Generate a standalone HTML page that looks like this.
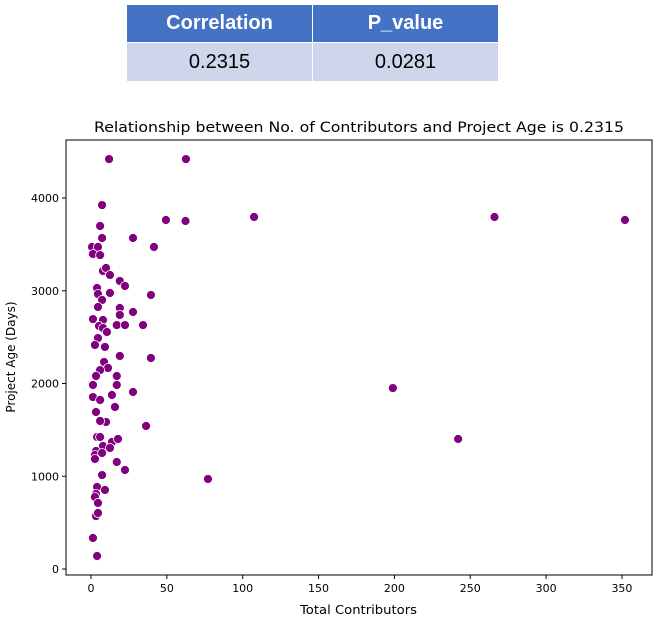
<!DOCTYPE html>
<html><head><meta charset="utf-8"><style>
body{margin:0;background:#fff;width:658px;height:619px;overflow:hidden;font-family:"Liberation Sans",sans-serif}
table{position:absolute;left:126px;top:4px;border-collapse:collapse}
td{width:185px;text-align:center;font-size:20px;border:1px solid #fff;padding:0}
.h td{background:#4472C4;color:#fff;font-weight:bold;height:37px}
.r td{background:#CFD5EA;color:#000;height:38px}
</style></head><body>
<table>
<tr class="h"><td>Correlation</td><td>P_value</td></tr>
<tr class="r"><td>0.2315</td><td>0.0281</td></tr>
</table>
<svg id="c" width="658" height="619" style="position:absolute;left:0;top:0;font-family:'DejaVu Sans',sans-serif"></svg>
<script>
const xs=[11.9,62.6,49.4,62.3,107.5,266,352,7.3,6,27.7,7.3,41.5,0.7,4.6,1.3,6,7.9,9.9,12.5,19,22.4,4,4.6,12.5,39.5,7.3,4.6,19,27.7,19,1.3,7.9,5.3,17,22.4,34.3,7.9,10.5,4.6,2.6,9.2,19,39.5,8.6,11.2,6,3.3,17,1.3,17,27.7,13.8,1.3,6,15.8,3.3,9.9,6,36.3,4,6,13.8,17.8,7.9,3.3,12.5,2.6,7.3,2.6,17,22.4,7.3,77.1,4,3.3,2.6,9.2,4.6,3.3,4.6,1.3,4,199,242];
const ys=[4420,4420,3763,3752,3795,3795,3763,3924,3698,3569,3569,3472,3472,3472,3396,3385,3213,3245,3170,3105,3051,3030,2965,2976,2954,2900,2825,2814,2771,2739,2695,2685,2620,2630,2630,2630,2598,2555,2490,2415,2394,2297,2275,2232,2167,2145,2081,2081,1984,1984,1908,1876,1854,1822,1747,1693,1585,1596,1542,1423,1423,1369,1402,1326,1272,1305,1229,1251,1186,1154,1067,1013,970,884,809,776,852,712,571,604,334,140,1951,1402];
const xticks=[0,50,100,150,200,250,300,350];
const yticks=[0,1000,2000,3000,4000];
const L=66,R=652,T=140,B=575;
const X=v=>91+v*1.517, Y=v=>569-v*0.09275;
const s=document.getElementById('c');const ns='http://www.w3.org/2000/svg';
function mk(t,a,txt){const e=document.createElementNS(ns,t);for(const k in a)e.setAttribute(k,a[k]);if(txt!=null)e.textContent=txt;s.appendChild(e);return e;}
let fr=mk('rect',{x:L,y:T,width:R-L,height:B-T,fill:'none',stroke:'#000','stroke-width':1});


xticks.forEach(v=>{mk('line',{x1:X(v),x2:X(v),y1:B,y2:B+4,stroke:'#000'});
 let t=mk('text',{x:X(v),y:B+17,'text-anchor':'middle','font-size':11},v);
 
 });
yticks.forEach(v=>{mk('line',{x1:L-4,x2:L,y1:Y(v),y2:Y(v),stroke:'#000'});
 let t=mk('text',{x:L-7,y:Y(v)+4,'text-anchor':'end','font-size':11},v);
 
 });
xs.forEach((x,i)=>{let c=mk('circle',{cx:X(x),cy:Y(ys[i]),r:4.5,fill:'#800080',stroke:'#fff','stroke-width':0.8});
 
 });
let ti=mk('text',{x:94,y:132,'font-size':14,textLength:530,lengthAdjust:'spacingAndGlyphs'},'Relationship between No. of Contributors and Project Age is 0.2315');


let xl=mk('text',{x:300,y:614,'font-size':12,textLength:117,lengthAdjust:'spacingAndGlyphs'},'Total Contributors');


let yl=mk('text',{x:15,y:357,'text-anchor':'middle','font-size':12,transform:'rotate(-90 15 357)'},'Project Age (Days)');


</script>
</body></html>
